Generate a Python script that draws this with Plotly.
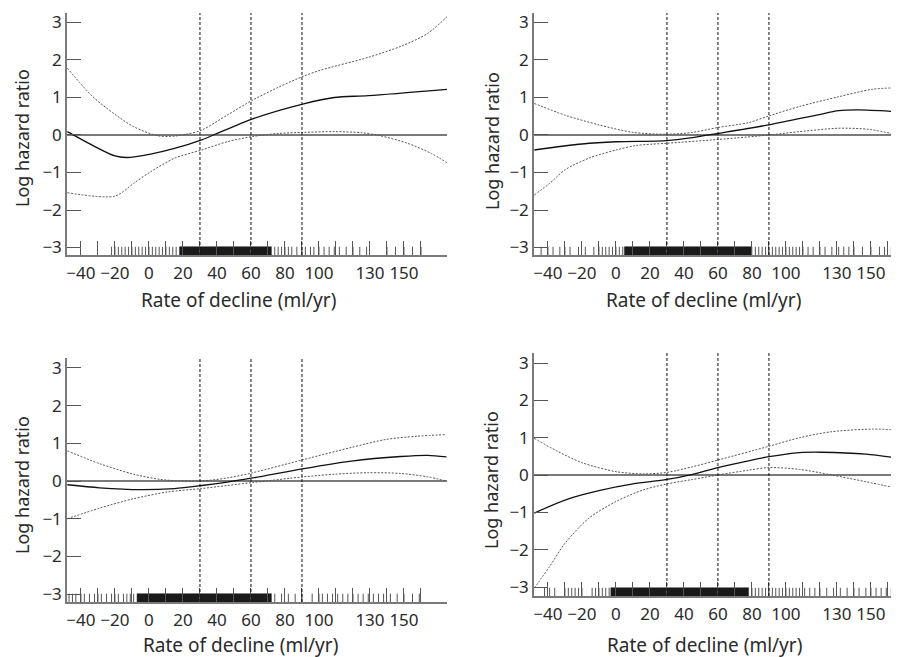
import plotly.graph_objects as go

# ---------------- data ----------------
# Panel 1 (top left)
p1_x_est = [-48, -20, -13, 1, 15, 31, 39, 61, 91, 109, 129, 176]
p1_est = [0.09, -0.56, -0.60, -0.51, -0.36, -0.13, 0.02, 0.43, 0.83, 1.00, 1.05, 1.22]
p1_x_up = [-48, -33, -20, -9, 5, 15, 23, 31, 46, 61, 76, 91, 101, 129, 149, 164, 177]
p1_up = [1.78, 1.02, 0.55, 0.22, -0.02, -0.03, 0.03, 0.13, 0.53, 0.93, 1.27, 1.57, 1.73, 2.07, 2.38, 2.71, 3.23]
p1_x_lo = [-48, -20, -9, 1, 15, 31, 46, 61, 76, 91, 109, 125, 136, 152, 166, 176]
p1_lo = [-1.54, -1.63, -1.29, -0.98, -0.62, -0.40, -0.18, -0.04, 0.04, 0.07, 0.09, 0.06, -0.02, -0.22, -0.49, -0.76]
p1_rug = [-22, -20, -18, -16, -14, -12, -10, -8, -6, -4, -2, 0, 2, 4, 6, 8, 10, 12, 14, 16,
          74, 76, 78, 80, 82, 84, 87, 90, 92, 95, 97, 100, 103, 106, 109, 112, 116, 120,
          124, 128, 140, 145, 150, 155, 160]
p1_rug_dense = [(18, 72)]

# Panel 2 (top right)
p2_x_est = [-48, -20, 0, 30, 45, 60, 90, 118, 131, 143, 166]
p2_est = [-0.40, -0.24, -0.18, -0.15, -0.07, 0.04, 0.27, 0.53, 0.65, 0.67, 0.62]
p2_x_up = [-48, -30, -10, 10, 30, 45, 60, 78, 90, 108, 131, 151, 166]
p2_up = [0.84, 0.53, 0.27, 0.07, 0.02, 0.07, 0.20, 0.33, 0.51, 0.76, 1.02, 1.22, 1.26]
p2_x_lo = [-48, -39, -30, -16, 0, 12, 30, 60, 90, 108, 131, 149, 166]
p2_lo = [-1.60, -1.29, -0.93, -0.62, -0.40, -0.28, -0.22, -0.12, 0.00, 0.09, 0.18, 0.15, 0.00]
p2_rug = [-44, -40, -37, -33, -30, -27, -22, -18, -13, -10, -8, -6, -4, -2, 0, 2, 4,
          82, 84, 86, 88, 90, 92, 94, 96, 98, 100, 102, 104, 106, 108, 110,
          113, 116, 120, 123, 127, 131, 134, 137, 140, 145, 150, 155, 158, 162]
p2_rug_dense = [(5, 80)]

# Panel 3 (bottom left)
p3_x_est = [-48, -29, -5, 15, 31, 46, 61, 91, 119, 148, 164, 175]
p3_est = [-0.10, -0.18, -0.23, -0.20, -0.12, -0.03, 0.08, 0.33, 0.53, 0.65, 0.68, 0.64]
p3_x_up = [-48, -29, -9, 7, 20, 31, 46, 61, 91, 119, 139, 158, 174]
p3_up = [0.80, 0.46, 0.18, 0.04, 0.00, 0.00, 0.08, 0.22, 0.57, 0.89, 1.10, 1.19, 1.23]
p3_x_lo = [-48, -29, -9, 11, 31, 46, 61, 91, 109, 129, 148, 164, 175]
p3_lo = [-1.00, -0.72, -0.47, -0.29, -0.20, -0.12, -0.04, 0.11, 0.18, 0.22, 0.20, 0.11, 0.00]
p3_rug = [-47, -45, -43, -40, -38, -35, -32, -30, -28, -25, -22, -20, -18, -15, -13, -11, -9,
          74, 78, 82, 86, 90, 96, 100, 102, 105, 108, 111, 114, 117, 120, 123, 126, 129,
          132, 135, 138, 142, 146, 150, 155, 159]
p3_rug_dense = [(-7, 72)]

# Panel 4 (bottom right)
p4_x_est = [-48, -30, -10, 10, 30, 45, 60, 78, 90, 108, 121, 147, 166]
p4_est = [-1.02, -0.67, -0.42, -0.24, -0.12, 0.02, 0.20, 0.38, 0.49, 0.60, 0.61, 0.56, 0.45]
p4_x_up = [-48, -35, -20, 0, 16, 30, 45, 60, 90, 108, 127, 151, 166]
p4_up = [0.98, 0.65, 0.33, 0.09, 0.03, 0.07, 0.22, 0.40, 0.77, 1.00, 1.16, 1.23, 1.20]
p4_x_lo = [-48, -39, -30, -16, 0, 16, 30, 45, 60, 78, 90, 108, 127, 147, 166]
p4_lo = [-3.03, -2.45, -1.83, -1.16, -0.71, -0.40, -0.24, -0.12, 0.00, 0.13, 0.20, 0.15, 0.00, -0.18, -0.36]
p4_rug = [-42, -39, -36, -30, -28, -26, -24, -22, -20, -14, -12, -10, -8, -6, -4,
          80, 82, 84, 86, 88, 90, 92, 94, 96, 98, 100, 102, 104, 106, 108,
          111, 114, 117, 120, 124, 128, 132, 136, 140, 143, 147, 150, 153, 156, 159, 162, 164]
p4_rug_dense = [(-3, 78)]

cut_points = [30, 60, 90]
x_tick_vals = [-40, -30, -20, -10, 0, 10, 20, 30, 40, 50, 60, 70, 80, 90, 100,
               110, 120, 130, 140, 150, 160]
x_tick_labels = {-40: "\u221240", -20: "\u221220", 0: "0", 20: "20", 40: "40", 60: "60",
                 80: "80", 100: "100", 130: "130", 150: "150"}
y_tick_vals = [-3, -2, -1, 0, 1, 2, 3]
y_tick_text = ["\u22123", "\u22122", "\u22121", "0", "1", "2", "3"]

x_title = "Rate of decline (ml/yr)"
y_title = "Log hazard ratio"

# ---------------- layout geometry (window pixels) ----------------
VW, VH = 899, 657
OFF = 8                      # page body margin in the browser
W, H = VW - OFF, VH - OFF    # figure size


def fx(px):
    return (px - OFF) / W


def fy(py):
    return (H - (py - OFF)) / H


panels = [
    dict(px=(67, 447), py=(13, 255), xr=[-48.2, 175.3], yr=[-3.2, 3.253],
         xt=(238, 300), yt=(22, 138),
         est=(p1_x_est, p1_est), up=(p1_x_up, p1_up), lo=(p1_x_lo, p1_lo),
         rug=p1_rug, dense=p1_rug_dense),
    dict(px=(534, 899), py=(13, 255), xr=[-48.2, 166.5], yr=[-3.2, 3.253],
         xt=(703, 300), yt=(492, 141),
         est=(p2_x_est, p2_est), up=(p2_x_up, p2_up), lo=(p2_x_lo, p2_lo),
         rug=p2_rug, dense=p2_rug_dense),
    dict(px=(67, 447), py=(358, 602), xr=[-48.2, 175.3], yr=[-3.212, 3.265],
         xt=(241, 645), yt=(22, 485),
         est=(p3_x_est, p3_est), up=(p3_x_up, p3_up), lo=(p3_x_lo, p3_lo),
         rug=p3_rug, dense=p3_rug_dense),
    dict(px=(534, 899), py=(353, 596), xr=[-48.2, 166.5], yr=[-3.241, 3.268],
         xt=(704, 645), yt=(491, 480),
         est=(p4_x_est, p4_est), up=(p4_x_up, p4_up), lo=(p4_x_lo, p4_lo),
         rug=p4_rug, dense=p4_rug_dense),
]

FONT = "Noto Sans"
TXT = "#2a2a2a"
AXC = "#7a7a7a"

fig = go.Figure()
layout = dict(width=W, height=H, margin=dict(l=0, r=0, t=0, b=0, autoexpand=False),
              paper_bgcolor="white", plot_bgcolor="white", showlegend=False,
              font=dict(family=FONT, size=16, color=TXT))
shapes = []
annotations = []

for i, p in enumerate(panels, start=1):
    xa = "x" if i == 1 else f"x{i}"
    ya = "y" if i == 1 else f"y{i}"
    ybot = p["yr"][0]
    rug_top = ybot + 0.22

    # sparse rug marks
    rx, ry = [], []
    for v in p["rug"]:
        rx += [v, v, None]
        ry += [ybot, rug_top, None]
    fig.add_trace(go.Scatter(x=rx, y=ry, mode="lines", xaxis=xa, yaxis=ya,
                             line=dict(color="#555", width=1), hoverinfo="skip"))
    # dense rug blocks
    for a, b in p["dense"]:
        fig.add_trace(go.Scatter(x=[a, b, b, a, a], y=[ybot, ybot, rug_top, rug_top, ybot],
                                 mode="lines", fill="toself", fillcolor="#1a1a1a",
                                 line=dict(color="#1a1a1a", width=0.5),
                                 xaxis=xa, yaxis=ya, hoverinfo="skip"))
    # confidence bands (dotted)
    for key in ("up", "lo"):
        xs, ys = p[key]
        fig.add_trace(go.Scatter(x=xs, y=ys, mode="lines", xaxis=xa, yaxis=ya,
                                 line=dict(color="#555", width=1, dash="2px,1.5px",
                                           shape="spline", smoothing=0.8)))
    # estimate (solid)
    xs, ys = p["est"]
    fig.add_trace(go.Scatter(x=xs, y=ys, mode="lines", xaxis=xa, yaxis=ya,
                             line=dict(color="#111", width=1.3, shape="spline", smoothing=0.8)))
    # dashed cut points
    for c in cut_points:
        shapes.append(dict(type="line", xref=xa, yref=f"{ya} domain", x0=c, x1=c, y0=0, y1=1,
                           line=dict(color="#111", width=1, dash="3px,2px"), layer="above"))

    xdom = [fx(p["px"][0]), min(1.0, fx(p["px"][1]))]
    ydom = [fy(p["py"][1]), min(1.0, fy(p["py"][0]))]
    axis_key = "xaxis" if i == 1 else f"xaxis{i}"
    yaxis_key = "yaxis" if i == 1 else f"yaxis{i}"
    layout[axis_key] = dict(domain=xdom, range=p["xr"], anchor=ya, automargin=False,
                            showgrid=False, zeroline=False, showline=True,
                            linecolor=AXC, linewidth=1.5,
                            ticks="inside", ticklen=14, tickwidth=1, tickcolor="#555",
                            tickvals=x_tick_vals,
                            ticktext=[x_tick_labels.get(v, "") for v in x_tick_vals],
                            tickfont=dict(size=17, color=TXT), ticklabelstandoff=2)
    layout[yaxis_key] = dict(domain=ydom, range=p["yr"], anchor=xa, automargin=False,
                             showgrid=False, zeroline=True, zerolinecolor=AXC, zerolinewidth=1.5,
                             showline=True, linecolor=AXC, linewidth=1.5,
                             ticks="inside", ticklen=14, tickwidth=1, tickcolor="#555",
                             tickvals=y_tick_vals, ticktext=y_tick_text,
                             tickfont=dict(size=17, color=TXT), ticklabelstandoff=0)
    # axis titles
    annotations.append(dict(text=x_title, xref="paper", yref="paper",
                            x=fx(p["xt"][0]), y=fy(p["xt"][1]),
                            xanchor="center", yanchor="middle", showarrow=False,
                            font=dict(size=19, color=TXT, family=FONT)))
    annotations.append(dict(text=y_title, xref="paper", yref="paper",
                            x=fx(p["yt"][0]), y=fy(p["yt"][1]), textangle=-90,
                            xanchor="center", yanchor="middle", showarrow=False,
                            font=dict(size=18, color=TXT, family=FONT)))

layout["shapes"] = shapes
layout["annotations"] = annotations
fig.update_layout(**layout)
fig.write_html("out.html")
